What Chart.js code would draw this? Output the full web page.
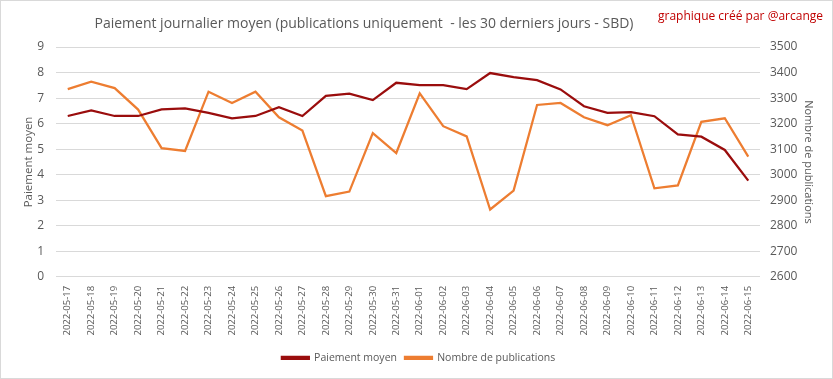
<!DOCTYPE html>
<html>
<head>
<meta charset="utf-8">
<script src="https://cdn.jsdelivr.net/npm/chart.js@4/dist/chart.umd.min.js"></script>
<style>
  html, body { margin: 0; padding: 0; background: #fff; }
  #wrap { position: relative; width: 831px; height: 377px; border: 1px solid #d9d9d9; }
  #title { position: absolute; top: 12px; left: 0; width: 726px; text-align: center;
           font: 14px "Open Sans", sans-serif; color: #595959; }
  #credit { position: absolute; top: 6px; right: 9px; font: 12px "Open Sans", sans-serif; color: #c00000; }
</style>
</head>
<body>
<div id="wrap">
  <canvas id="chart" width="831" height="377"></canvas>
  <div id="title">Paiement journalier moyen (publications uniquement&nbsp; - les 30 derniers jours - SBD)</div>
  <div id="credit">graphique créé par @arcange</div>
</div>
<script>
const dates = [
    "2022-05-17", "2022-05-18", "2022-05-19", "2022-05-20", "2022-05-21", "2022-05-22",
    "2022-05-23", "2022-05-24", "2022-05-25", "2022-05-26", "2022-05-27", "2022-05-28",
    "2022-05-29", "2022-05-30", "2022-05-31", "2022-06-01", "2022-06-02", "2022-06-03",
    "2022-06-04", "2022-06-05", "2022-06-06", "2022-06-07", "2022-06-08", "2022-06-09",
    "2022-06-10", "2022-06-11", "2022-06-12", "2022-06-13", "2022-06-14", "2022-06-15"
];
const avgPayout = [
    6.3, 6.52, 6.3, 6.3, 6.56, 6.6, 6.42, 6.21, 6.3, 6.64,
    6.3, 7.09, 7.17, 6.92, 7.6, 7.51, 7.51, 7.35, 7.98, 7.82,
    7.7, 7.34, 6.68, 6.42, 6.45, 6.29, 5.58, 5.49, 4.97, 3.77
];
const postCount = [
    3335, 3364, 3339, 3255, 3104, 3093, 3325, 3281, 3325, 3225,
    3173, 2916, 2934, 3163, 3085, 3319, 3190, 3150, 2864, 2938,
    3273, 3281, 3225, 3194, 3233, 2947, 2958, 3207, 3221, 3071
];

const darkRed = "#9a0d0d";
const orange = "#ed7d31";
const grey = "#595959";
const font = "'Open Sans', sans-serif";

const ctx = document.getElementById("chart").getContext("2d");
new Chart(ctx, {
    type: "line",
    data: {
        labels: dates,
        datasets: [{
            label: "Paiement moyen",
            data: avgPayout,
            borderColor: darkRed,
            backgroundColor: darkRed,
            borderWidth: 2.25,
            pointRadius: 0,
            tension: 0,
            yAxisID: "y"
        }, {
            label: "Nombre de publications",
            data: postCount,
            borderColor: orange,
            backgroundColor: orange,
            borderWidth: 2.25,
            pointRadius: 0,
            tension: 0,
            yAxisID: "y1"
        }]
    },
    options: {
        responsive: false,
        animation: false,
        layout: { padding: { top: 46, left: 21, right: 17, bottom: 5 } },
        plugins: {
            title: { display: false },
            tooltip: { enabled: false },
            legend: {
                position: "bottom",
                labels: {
                    boxWidth: 27,
                    boxHeight: 2,
                    padding: 8,
                    color: grey,
                    font: { family: font, size: 10.5 }
                }
            }
        },
        scales: {
            x: {
                offset: true,
                grid: { display: false, drawTicks: false },
                border: { display: false },
                ticks: {
                    color: grey,
                    font: { family: font, size: 9.5 },
                    minRotation: 90,
                    maxRotation: 90,
                    autoSkip: false,
                    padding: 9
                }
            },
            y: {
                position: "left",
                min: 0,
                max: 9,
                afterFit: scale => { scale.width = 34; },
                grid: { color: "#d9d9d9", drawTicks: false },
                border: { display: false },
                ticks: { stepSize: 1, color: grey, font: { family: font, size: 12 }, padding: 12 },
                title: { display: true, text: "Paiement moyen", color: grey, font: { family: font, size: 11.5 }, padding: 0 }
            },
            y1: {
                position: "right",
                min: 2600,
                max: 3500,
                afterFit: scale => { scale.width = 55; },
                grid: { display: false, drawTicks: false },
                border: { display: false },
                ticks: {
                    stepSize: 100, color: grey, font: { family: font, size: 12 }, padding: 10,
                    callback: v => String(v)
                },
                title: { display: true, text: "Nombre de publications", color: grey, font: { family: font, size: 11 }, padding: 0 }
            }
        }
    }
});
</script>
</body>
</html>
